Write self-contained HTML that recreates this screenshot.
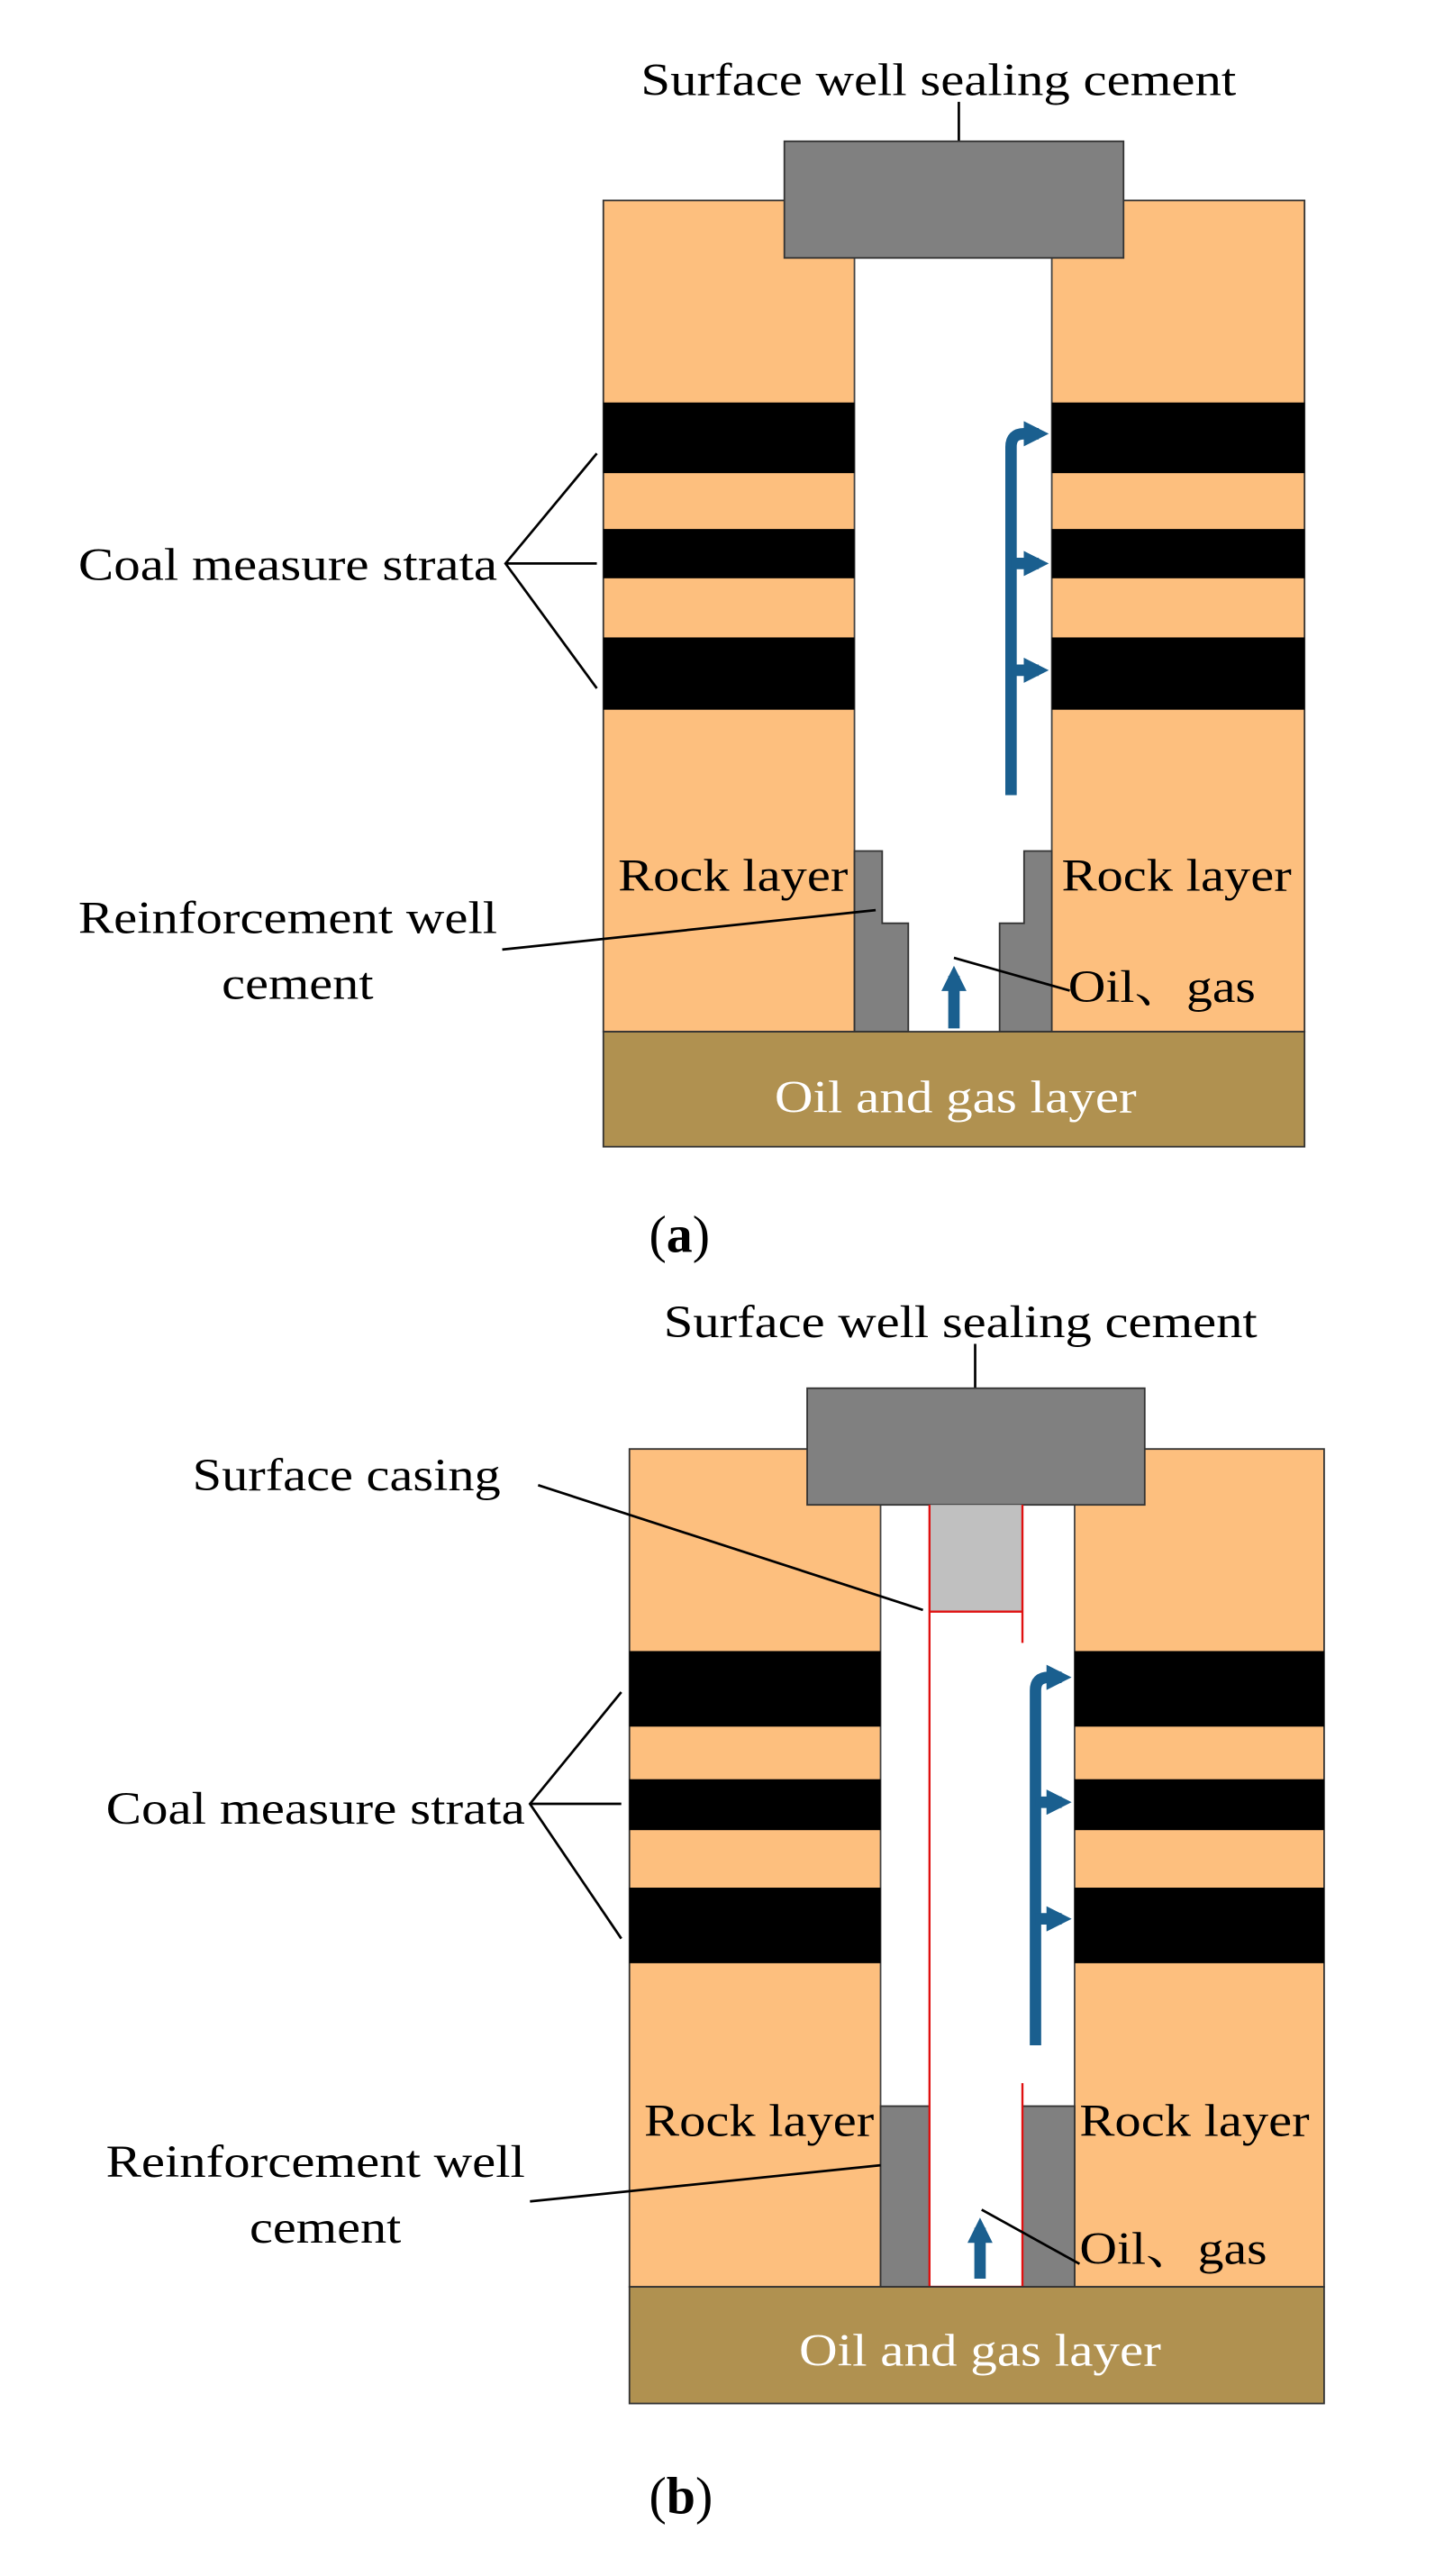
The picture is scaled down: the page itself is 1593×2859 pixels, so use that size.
<!DOCTYPE html>
<html><head><meta charset="utf-8"><style>
html,body{margin:0;padding:0;background:#fff;}
svg{display:block;}
text{font-family:"Liberation Serif","Noto Serif CJK SC",serif;font-size:28px;fill:#000;}
</style></head><body>
<svg width="1593" height="2859" viewBox="0 0 880 1568" preserveAspectRatio="none" xmlns="http://www.w3.org/2000/svg">
<defs>
<marker id="ah" viewBox="0 0 10 10" refX="6" refY="5" markerWidth="2.2" markerHeight="2.2" orient="auto"><path d="M0,0 L10,5 L0,10 z" fill="#1a5f8f"/></marker>
</defs>
<!-- Panel a -->
<text x="393" y="58" textLength="365" lengthAdjust="spacingAndGlyphs">Surface well sealing cement</text>
<line x1="588" y1="62" x2="588" y2="86" stroke="#000" stroke-width="1.5"/>
<rect x="370" y="122" width="430" height="506" fill="#fdbf7e" stroke="#333" stroke-width="1"/>
<rect x="524" y="150" width="121" height="478" fill="#fff"/>
<line x1="524" y1="157" x2="524" y2="628" stroke="#444" stroke-width="1"/>
<line x1="645" y1="157" x2="645" y2="628" stroke="#444" stroke-width="1"/>
<rect x="481" y="86" width="208" height="71" fill="#808080" stroke="#333" stroke-width="1"/>
<g fill="#000">
<rect x="370" y="245" width="154" height="43"/><rect x="645" y="245" width="155" height="43"/>
<rect x="370" y="322" width="154" height="30"/><rect x="645" y="322" width="155" height="30"/>
<rect x="370" y="388" width="154" height="44"/><rect x="645" y="388" width="155" height="44"/>
</g>
<polygon points="524,518 541,518 541,562 557,562 557,628 524,628" fill="#808080" stroke="#333" stroke-width="1"/>
<polygon points="645,518 628,518 628,562 613,562 613,628 645,628" fill="#808080" stroke="#333" stroke-width="1"/>
<rect x="370" y="628" width="430" height="70" fill="#b09150" stroke="#333" stroke-width="1"/>
<text x="475" y="677" textLength="222" lengthAdjust="spacingAndGlyphs" style="fill:#fff">Oil and gas layer</text>
<text x="379" y="542" textLength="141" lengthAdjust="spacingAndGlyphs">Rock layer</text>
<text x="651" y="542" textLength="141" lengthAdjust="spacingAndGlyphs">Rock layer</text>
<text x="655" y="610" textLength="115" lengthAdjust="spacingAndGlyphs">Oil、gas</text>
<text x="48" y="568" textLength="257" lengthAdjust="spacingAndGlyphs">Reinforcement well</text>
<text x="136" y="608" textLength="93" lengthAdjust="spacingAndGlyphs">cement</text>
<line x1="308" y1="578" x2="537" y2="554" stroke="#000" stroke-width="1.5"/>
<line x1="585" y1="583" x2="656" y2="603" stroke="#000" stroke-width="1.5"/>
<text x="48" y="353" textLength="257" lengthAdjust="spacingAndGlyphs">Coal measure strata</text>
<polyline points="366,276 310,343 366,419" fill="none" stroke="#000" stroke-width="1.5"/>
<line x1="310" y1="343" x2="366" y2="343" stroke="#000" stroke-width="1.5"/>
<g stroke="#1a5f8f" stroke-width="7" fill="none">
<path d="M620,484 L620,272 Q620,264 628,264 L637,264" marker-end="url(#ah)"/>
<path d="M620,343 L637,343" marker-end="url(#ah)"/>
<path d="M620,408 L637,408" marker-end="url(#ah)"/>
<path d="M585,626 L585,594" marker-end="url(#ah)"/>
</g>
<text x="398" y="762" style="font-size:32px">(<tspan style="font-weight:bold">a</tspan>)</text>

<!-- Panel b -->
<text x="407" y="814" textLength="364" lengthAdjust="spacingAndGlyphs">Surface well sealing cement</text>
<line x1="598" y1="818" x2="598" y2="845" stroke="#000" stroke-width="1.5"/>
<rect x="386" y="882" width="426" height="510" fill="#fdbf7e" stroke="#333" stroke-width="1"/>
<rect x="540" y="910" width="119" height="482" fill="#fff"/>
<line x1="540" y1="916" x2="540" y2="1392" stroke="#444" stroke-width="1"/>
<line x1="659" y1="916" x2="659" y2="1392" stroke="#444" stroke-width="1"/>
<rect x="495" y="845" width="207" height="71" fill="#808080" stroke="#333" stroke-width="1"/>
<g fill="#000">
<rect x="386" y="1005" width="154" height="46"/><rect x="659" y="1005" width="153" height="46"/>
<rect x="386" y="1083" width="154" height="31"/><rect x="659" y="1083" width="153" height="31"/>
<rect x="386" y="1149" width="154" height="46"/><rect x="659" y="1149" width="153" height="46"/>
</g>
<rect x="570" y="916" width="57" height="65" fill="#c0c0c0"/>
<rect x="540" y="1282" width="30" height="110" fill="#808080" stroke="#333" stroke-width="1"/>
<rect x="627" y="1282" width="32" height="110" fill="#808080" stroke="#333" stroke-width="1"/>
<g stroke="#e01010" stroke-width="1.3" fill="none">
<line x1="570" y1="916" x2="570" y2="1392"/>
<line x1="627" y1="916" x2="627" y2="1000"/>
<line x1="627" y1="1268" x2="627" y2="1392"/>
<line x1="570" y1="981" x2="627" y2="981"/>
<line x1="570" y1="1392" x2="627" y2="1392"/>
</g>
<rect x="386" y="1392" width="426" height="71" fill="#b09150" stroke="#333" stroke-width="1"/>
<text x="490" y="1440" textLength="222" lengthAdjust="spacingAndGlyphs" style="fill:#fff">Oil and gas layer</text>
<text x="395" y="1300" textLength="141" lengthAdjust="spacingAndGlyphs">Rock layer</text>
<text x="662" y="1300" textLength="141" lengthAdjust="spacingAndGlyphs">Rock layer</text>
<text x="662" y="1378" textLength="115" lengthAdjust="spacingAndGlyphs">Oil、gas</text>
<text x="118" y="907" textLength="189" lengthAdjust="spacingAndGlyphs">Surface casing</text>
<line x1="330" y1="904" x2="566" y2="980" stroke="#000" stroke-width="1.5"/>
<text x="65" y="1325" textLength="257" lengthAdjust="spacingAndGlyphs">Reinforcement well</text>
<text x="153" y="1365" textLength="93" lengthAdjust="spacingAndGlyphs">cement</text>
<line x1="325" y1="1340" x2="540" y2="1318" stroke="#000" stroke-width="1.5"/>
<line x1="602" y1="1345" x2="662" y2="1378" stroke="#000" stroke-width="1.5"/>
<text x="65" y="1110" textLength="257" lengthAdjust="spacingAndGlyphs">Coal measure strata</text>
<polyline points="381,1030 325,1098 381,1180" fill="none" stroke="#000" stroke-width="1.5"/>
<line x1="325" y1="1098" x2="381" y2="1098" stroke="#000" stroke-width="1.5"/>
<g stroke="#1a5f8f" stroke-width="7" fill="none">
<path d="M635,1245 L635,1029 Q635,1021 643,1021 L651,1021" marker-end="url(#ah)"/>
<path d="M635,1097 L651,1097" marker-end="url(#ah)"/>
<path d="M635,1168 L651,1168" marker-end="url(#ah)"/>
<path d="M601,1387 L601,1356" marker-end="url(#ah)"/>
</g>
<text x="398" y="1530" style="font-size:32px">(<tspan style="font-weight:bold">b</tspan>)</text>
</svg>
</body></html>
